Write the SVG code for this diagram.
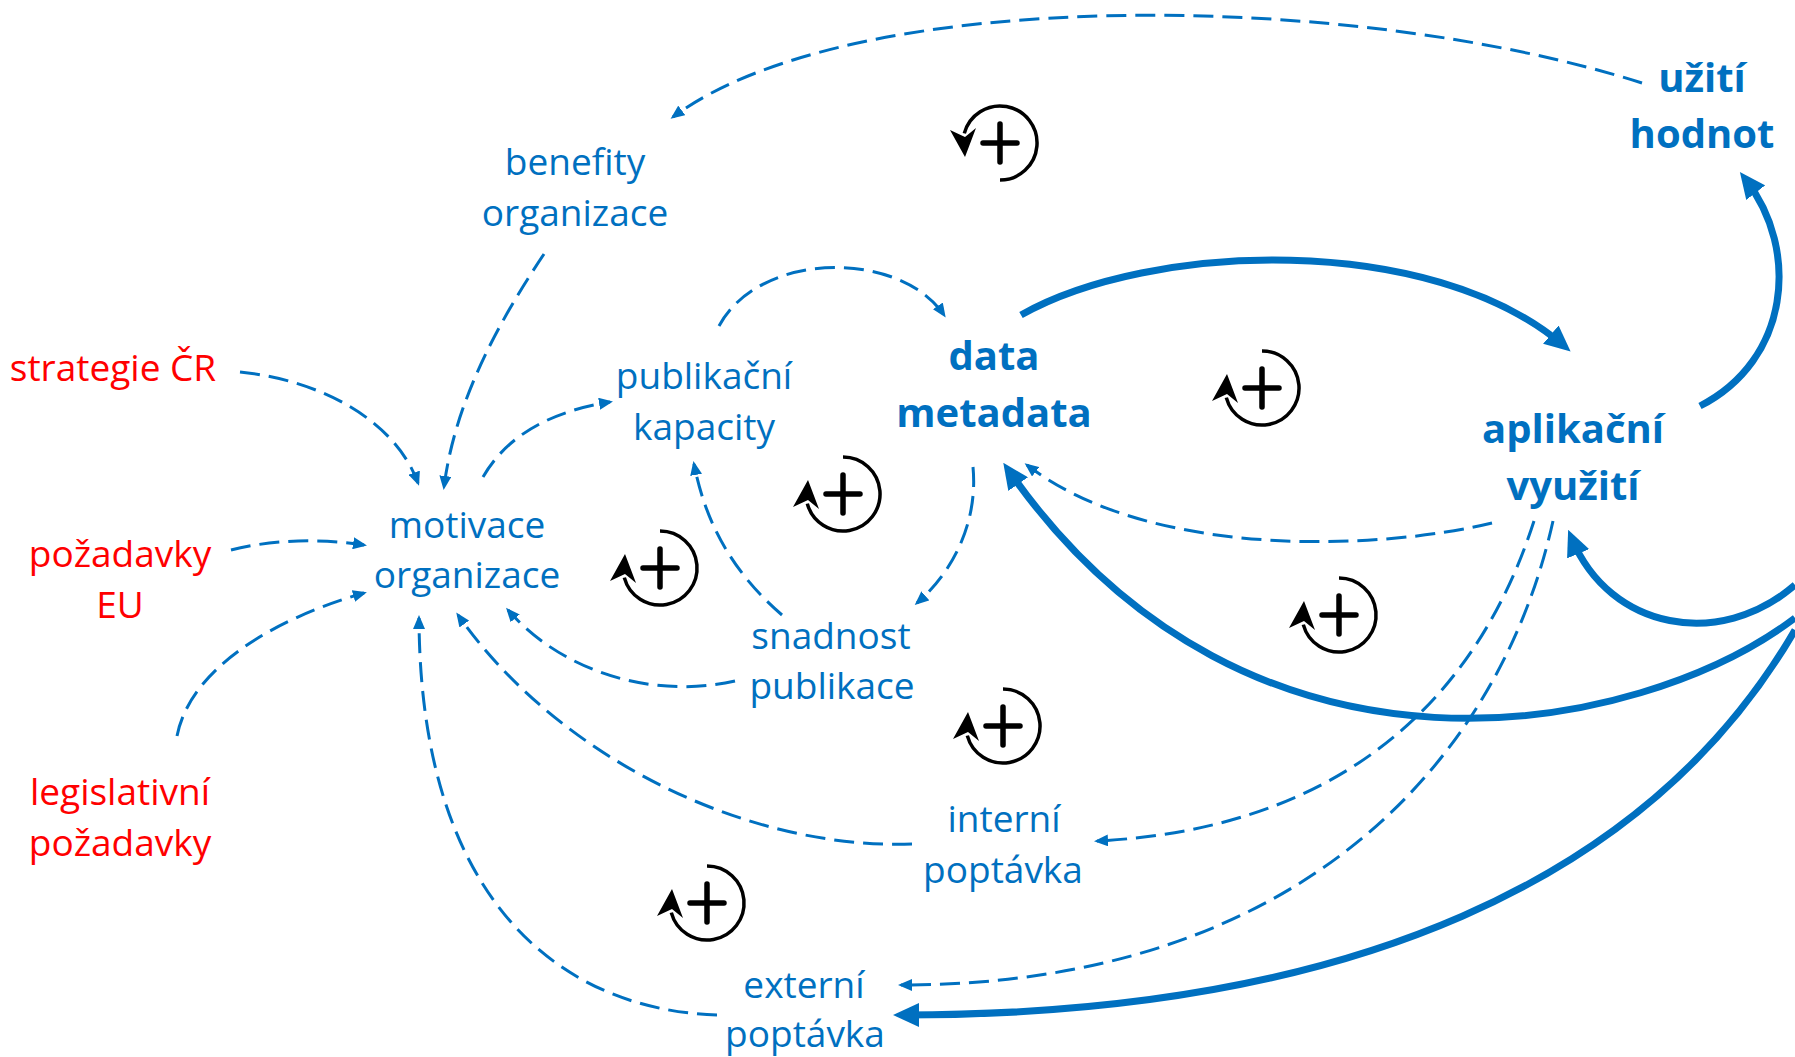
<svg xmlns="http://www.w3.org/2000/svg" xmlns:xlink="http://www.w3.org/1999/xlink" width="1795" height="1057" viewBox="0 0 1795 1057">
<style>
.t{font-family:"Open Sans","Noto Sans",sans-serif;font-size:37px;fill:#0070C0;text-anchor:middle}
.r{fill:#FF0000}
.b{font-weight:bold;font-size:40px}
.d{fill:none;stroke:#0070C0;stroke-width:3;stroke-dasharray:20 9}
.s{fill:none;stroke:#0070C0;stroke-width:7}
</style>
<defs>
<marker id="ad" markerUnits="userSpaceOnUse" markerWidth="14" markerHeight="12" viewBox="0 0 14 12" refX="11" refY="6" orient="auto">
<path d="M0,0 L14,6 L0,12 Z" fill="#0070C0"/>
</marker>
<marker id="as" markerUnits="userSpaceOnUse" markerWidth="26" markerHeight="24" viewBox="0 0 26 24" refX="16" refY="12" orient="auto">
<path d="M0,0 L26,12 L0,24 Z" fill="#0070C0"/>
</marker>
<g id="loop">
<path d="M0,-37 A37,37 0 1 1 -35.7,9.6" fill="none" stroke="#000" stroke-width="3.5"/>
<path d="M-35,-14 L-50,13 L-35,6 L-24,15 Z" fill="#000"/>
</g>
<path id="plus" d="M-17,0 H17 M0,-19 V19" stroke="#000" stroke-width="5.5" stroke-linecap="round"/>
</defs>
<rect width="1795" height="1057" fill="#fff"/>

<g id="connectors">
<path class="d" d="M1642,83 C1350,-10 850,-15 673,117" marker-end="url(#ad)"/>
<path class="d" d="M544,254 C500,320 455,400 444,487" marker-end="url(#ad)"/>
<path class="d" d="M240,372 C320,380 395,420 418,483" marker-end="url(#ad)"/>
<path class="d" d="M231,550 C270,540 320,538 364,545" marker-end="url(#ad)"/>
<path class="d" d="M177,736 C190,670 270,620 364,593" marker-end="url(#ad)"/>
<path class="d" d="M483,477 C510,430 560,410 610,402" marker-end="url(#ad)"/>
<path class="d" d="M719,326 C760,250 900,250 944,315" marker-end="url(#ad)"/>
<path class="d" d="M782,615 C730,570 705,520 694,464" marker-end="url(#ad)"/>
<path class="d" d="M735,681 C650,700 560,670 508,610" marker-end="url(#ad)"/>
<path class="d" d="M973,467 C978,520 955,570 917,603" marker-end="url(#ad)"/>
<path class="d" d="M1492,523 C1380,550 1150,560 1027,465" marker-end="url(#ad)"/>
<path class="d" d="M1534,521 C1470,720 1320,830 1097,841" marker-end="url(#ad)"/>
<path class="d" d="M1553,521 C1500,760 1300,985 901,985" marker-end="url(#ad)"/>
<path class="d" d="M912,844 C750,850 560,760 458,615" marker-end="url(#ad)"/>
<path class="d" d="M717,1015 C560,1010 420,900 419,618" marker-end="url(#ad)"/>
<path class="s" d="M1021,315 C1150,242 1430,232 1563,345" marker-end="url(#as)"/>
<path class="s" d="M1700,406 C1790,360 1800,250 1746,180" marker-end="url(#as)"/>
<path class="s" d="M1795,585 C1720,650 1610,630 1572,539" marker-end="url(#as)"/>
<path class="s" d="M1795,618 C1640,735 1250,815 1009,471" marker-end="url(#as)"/>
<path class="s" d="M1795,630 C1650,880 1350,1015 903,1015" marker-end="url(#as)"/>
</g>

<g id="loops">
<g id="loop1"><use xlink:href="#loop" transform="translate(1000,143) scale(1,-1)"/><use xlink:href="#plus" transform="translate(1000,143)"/></g>
<g id="loop2"><use xlink:href="#loop" transform="translate(1262,388)"/><use xlink:href="#plus" transform="translate(1262,388)"/></g>
<g id="loop3"><use xlink:href="#loop" transform="translate(843,494)"/><use xlink:href="#plus" transform="translate(843,494)"/></g>
<g id="loop4"><use xlink:href="#loop" transform="translate(660,568)"/><use xlink:href="#plus" transform="translate(660,568)"/></g>
<g id="loop5"><use xlink:href="#loop" transform="translate(1339,615)"/><use xlink:href="#plus" transform="translate(1339,615)"/></g>
<g id="loop6"><use xlink:href="#loop" transform="translate(1003,726)"/><use xlink:href="#plus" transform="translate(1003,726)"/></g>
<g id="loop7"><use xlink:href="#loop" transform="translate(707,903)"/><use xlink:href="#plus" transform="translate(707,903)"/></g>
</g>

<g id="uziti-hodnot"><text class="t b" x="1702" y="92">užití</text><text class="t b" x="1702" y="148">hodnot</text></g>
<g id="benefity-organizace"><text class="t" x="575" y="175">benefity</text><text class="t" x="575" y="226">organizace</text></g>
<g id="strategie-cr"><text class="t r" x="113" y="381">strategie ČR</text></g>
<g id="publikacni-kapacity"><text class="t" x="704" y="389">publikační</text><text class="t" x="704" y="440">kapacity</text></g>
<g id="data-metadata"><text class="t b" x="994" y="370">data</text><text class="t b" x="994" y="427">metadata</text></g>
<g id="aplikacni-vyuziti"><text class="t b" x="1573" y="443">aplikační</text><text class="t b" x="1573" y="500">využití</text></g>
<g id="motivace-organizace"><text class="t" x="467" y="538">motivace</text><text class="t" x="467" y="588">organizace</text></g>
<g id="pozadavky-eu"><text class="t r" x="120" y="567">požadavky</text><text class="t r" x="120" y="618">EU</text></g>
<g id="legislativni-pozadavky"><text class="t r" x="120" y="805">legislativní</text><text class="t r" x="120" y="856">požadavky</text></g>
<g id="snadnost-publikace"><text class="t" x="831" y="649">snadnost</text><text class="t" x="832" y="699">publikace</text></g>
<g id="interni-poptavka"><text class="t" x="1004" y="832">interní</text><text class="t" x="1003" y="883">poptávka</text></g>
<g id="externi-poptavka"><text class="t" x="804" y="998">externí</text><text class="t" x="805" y="1047">poptávka</text></g>
</svg>
